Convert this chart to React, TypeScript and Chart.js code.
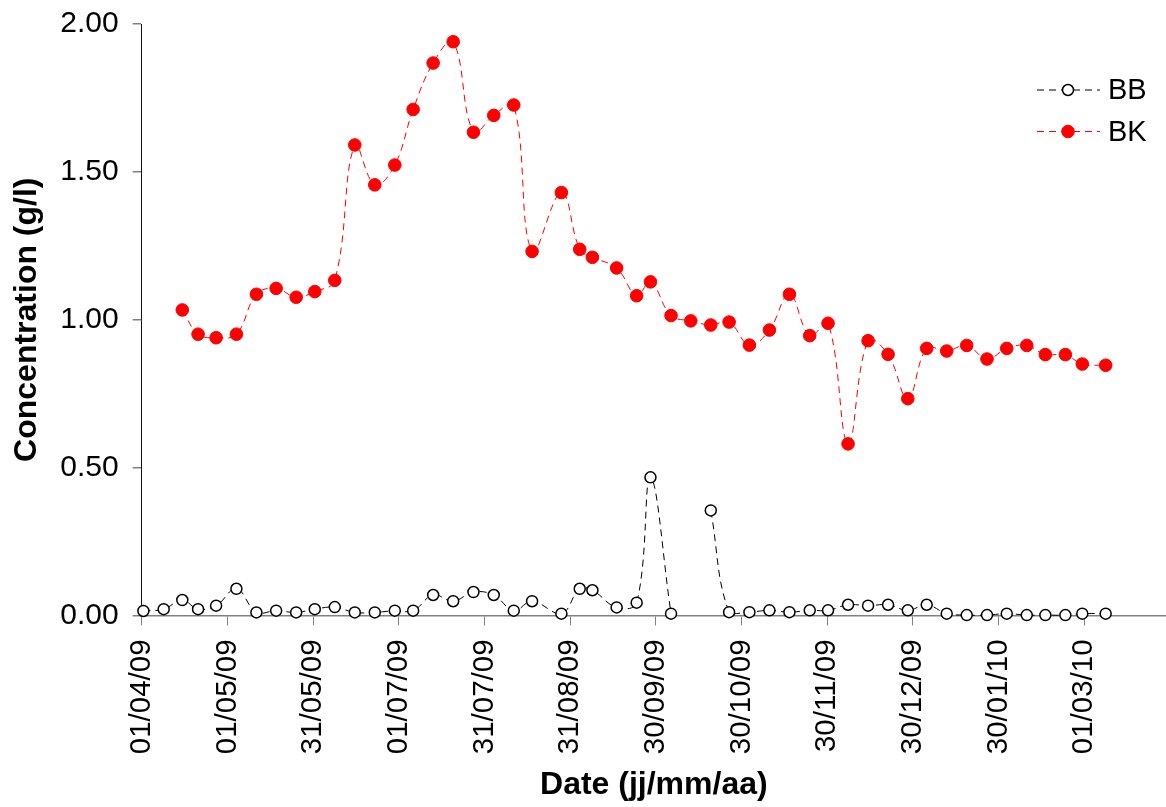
import React, { useEffect, useRef } from "react";
import { Chart, registerables } from "chart.js";

Chart.register(...registerables);

// Days elapsed since 01/04/09 for each sampling date
const sampleDays = [0.6, 7.8, 14.4, 20.0, 26.4, 33.6, 40.7, 47.7, 54.8, 61.4, 68.5, 75.6, 82.7, 89.8, 96.3, 103.4, 110.5, 117.7, 124.9, 132.0, 138.5, 148.9, 155.4, 159.9, 168.5, 175.6, 180.5, 187.8, 194.8, 201.9, 208.4, 215.6, 222.7, 229.8, 237.0, 243.5, 250.6, 257.7, 264.8, 271.8, 278.5, 285.6, 292.7, 299.9, 306.9, 314.0, 320.6, 327.7, 333.7, 342.0];

const bbValues = [0.015, 0.021, 0.052, 0.021, 0.033, 0.090, 0.010, 0.016, 0.010, 0.021, 0.028, 0.010, 0.010, 0.016, 0.016, 0.069, 0.048, 0.079, 0.069, 0.016, 0.048, 0.006, 0.090, 0.085, 0.027, 0.043, 0.467, 0.006, null, 0.355, 0.011, 0.011, 0.017, 0.011, 0.017, 0.017, 0.036, 0.033, 0.036, 0.017, 0.036, 0.006, 0.001, 0.001, 0.006, 0.001, 0.001, 0.001, 0.006, 0.006];

const bkValues = [null, null, 1.033, 0.951, 0.939, 0.951, 1.086, 1.106, 1.076, 1.095, 1.133, 1.591, 1.456, 1.523, 1.711, 1.868, 1.940, 1.634, 1.691, 1.726, 1.231, 1.430, 1.238, 1.211, 1.175, 1.081, 1.128, 1.014, 0.996, 0.982, 0.992, 0.914, 0.965, 1.086, 0.946, 0.988, 0.580, 0.929, 0.883, 0.733, 0.903, 0.894, 0.913, 0.867, 0.903, 0.913, 0.882, 0.882, 0.850, 0.846];

// Tick positions (days since 01/04/09) and their labels
const tickDays = [0, 30.4, 60.8, 91.2, 121.6, 152, 182.4, 212.8, 243.2, 273.6, 304, 334.4];
const tickLabels = ["01/04/09", "01/05/09", "31/05/09", "01/07/09", "31/07/09", "31/08/09", "30/09/09", "30/10/09", "30/11/09", "30/12/09", "30/01/10", "01/03/10"];

const seriesNames = ["BB", "BK"];

const FONT = "'Liberation Sans', Arial, Helvetica, sans-serif";

const legendPlugin = {
  id: "customLegend",
  afterDraw(chart: any) {
    const ctx = chart.ctx;
    const rows = [90, 131.5];
    chart.data.datasets.forEach((ds: any, i: number) => {
      const y = rows[i];
      ctx.save();
      ctx.strokeStyle = ds.borderColor;
      ctx.lineWidth = ds.borderWidth;
      ctx.setLineDash(ds.borderDash);
      ctx.beginPath();
      ctx.moveTo(1037, y);
      ctx.lineTo(1100, y);
      ctx.stroke();
      ctx.setLineDash([]);
      ctx.beginPath();
      ctx.arc(1068, y, ds.pointRadius, 0, Math.PI * 2);
      ctx.fillStyle = ds.pointBackgroundColor;
      ctx.fill();
      ctx.lineWidth = ds.pointBorderWidth;
      ctx.strokeStyle = ds.pointBorderColor;
      ctx.stroke();
      ctx.fillStyle = "#000";
      ctx.font = `29px ${FONT}`;
      ctx.textAlign = "left";
      ctx.textBaseline = "middle";
      ctx.fillText(ds.label, 1108, y + 1);
      ctx.restore();
    });
  },
};

export default function App() {
  const canvasRef = useRef<HTMLCanvasElement | null>(null);

  useEffect(() => {
    const canvas = canvasRef.current;
    if (!canvas) return;
    const chart = new Chart(canvas, {
      type: "line",
      data: {
        datasets: [
          {
            label: seriesNames[0],
            data: sampleDays.map((d, i) => ({ x: d, y: bbValues[i] })),
            borderColor: "#000000",
            borderWidth: 1,
            borderDash: [7, 5],
            pointRadius: 5.5,
            pointBackgroundColor: "#ffffff",
            pointBorderColor: "#000000",
            pointBorderWidth: 1.5,
            spanGaps: false,
            tension: 0.4,
            clip: false,
          },
          {
            label: seriesNames[1],
            data: sampleDays.map((d, i) => ({ x: d, y: bkValues[i] })),
            borderColor: "#ff0000",
            borderWidth: 1,
            borderDash: [7, 5],
            pointRadius: 6.3,
            pointBackgroundColor: "#ff0000",
            pointBorderColor: "#ff0000",
            pointBorderWidth: 1,
            spanGaps: false,
            tension: 0.4,
            clip: false,
          },
        ],
      },
      options: {
        animation: false,
        responsive: false,
        maintainAspectRatio: false,
        layout: { autoPadding: false, padding: { top: 24, left: 0, right: 0, bottom: 0 } },
        plugins: {
          legend: { display: false },
          tooltip: { enabled: false },
        },
        scales: {
          x: {
            type: "linear",
            min: 0,
            max: 363.4,
            afterFit: (scale: any) => {
              scale.height = 191.6;
              scale.paddingLeft = 0;
              scale.paddingRight = 0;
            },
            afterBuildTicks: (scale: any) => {
              scale.ticks = tickDays.map((v) => ({ value: v }));
            },
            ticks: {
              autoSkip: false,
              maxRotation: 90,
              minRotation: 90,
              padding: 14,
              color: "#000",
              font: { family: FONT, size: 29.5 },
              callback: (value: any) => {
                const idx = tickDays.findIndex((t) => Math.abs(t - Number(value)) < 0.01);
                return idx >= 0 ? tickLabels[idx] : "";
              },
            },
            grid: {
              display: true,
              drawOnChartArea: false,
              drawTicks: true,
              tickLength: 10,
              color: "#808080",
              lineWidth: 1,
            },
            border: { display: true, color: "#808080", width: 1.5 },
            title: {
              display: true,
              text: "Date (jj/mm/aa)",
              color: "#000",
              font: { family: FONT, size: 32, weight: "bold" },
              padding: { top: 0, bottom: 3 },
            },
          },
          y: {
            type: "linear",
            min: 0,
            max: 2,
            afterFit: (scale: any) => {
              scale.width = 141.7;
              scale.paddingTop = 0;
              scale.paddingBottom = 0;
            },
            ticks: {
              stepSize: 0.5,
              padding: 14,
              color: "#000",
              font: { family: FONT, size: 30 },
              callback: (value: any) => Number(value).toFixed(2),
            },
            grid: {
              display: true,
              drawOnChartArea: false,
              drawTicks: true,
              tickLength: 9,
              color: "#808080",
              lineWidth: 1.5,
            },
            border: { display: true, color: "#111", width: 1 },
            title: {
              display: true,
              text: "Concentration (g/l)",
              color: "#000",
              font: { family: FONT, size: 32, weight: "bold" },
              padding: { top: 8, bottom: 0 },
            },
          },
        },
      },
      plugins: [legendPlugin],
    } as any);
    return () => chart.destroy();
  }, []);

  return (
    <div style={{ position: "fixed", left: 0, top: 0, width: 1166, height: 807, background: "#fff" }}>
      <canvas ref={canvasRef} width={1166} height={807} style={{ display: "block", width: 1166, height: 807 }} />
    </div>
  );
}
